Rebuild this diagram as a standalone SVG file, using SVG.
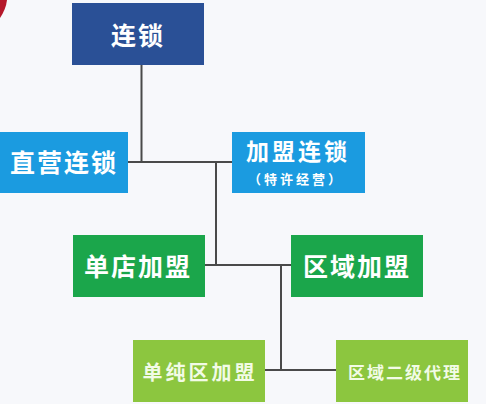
<svg xmlns="http://www.w3.org/2000/svg" width="486" height="404" viewBox="0 0 486 404">
<style>
text{font-family:"Noto Sans CJK SC","Noto Sans",sans-serif;font-weight:bold;fill:#ffffff;text-anchor:middle;dominant-baseline:central}
.c{stroke:#4a4a4a;stroke-width:2;fill:none}
.dk{fill:#2a5096}.lb{fill:#1b9be0}.gr{fill:#1ba64b}.lg{fill:#8cc63f}
.gt{fill:#f2fbe6}
</style>
<rect width="486" height="404" fill="#f7f8fb"/>
<path d="M0,0 L7,0 Q6,9 0,18 Z" fill="#b5182a"/>
<g id="connectors">
<path class="c" d="M141.5,65 V162 M128,162 H232 M216,162 V265 M205,265 H291 M281,265 V370 M265,370 H336"/>
</g>
<g id="n-liansuo"><rect class="dk" x="72" y="3" width="132" height="62"/><text x="138" y="34" font-size="25" letter-spacing="2">连锁</text></g>
<g id="n-zhiying"><rect class="lb" x="0" y="132" width="128" height="61"/><text x="64" y="161" font-size="25" letter-spacing="2">直营连锁</text></g>
<g id="n-jiameng"><rect class="lb" x="232" y="132" width="133" height="61"/><text x="298" y="150" font-size="23" letter-spacing="3">加盟连锁</text><text x="296" y="178" font-size="13" letter-spacing="3">（特许经营）</text></g>
<g id="n-dandian"><rect class="gr" x="73" y="235" width="132" height="62"/><text x="138" y="265" font-size="25" letter-spacing="2">单店加盟</text></g>
<g id="n-quyu"><rect class="gr" x="291" y="235" width="132" height="62"/><text x="357" y="265" font-size="25" letter-spacing="2">区域加盟</text></g>
<g id="n-danchun"><rect class="lg" x="133" y="340" width="132" height="62"/><text class="gt" x="200" y="371" font-size="20" letter-spacing="3">单纯区加盟</text></g>
<g id="n-erji"><rect class="lg" x="336" y="340" width="132" height="62"/><text class="gt" x="405" y="371" font-size="17" letter-spacing="2">区域二级代理</text></g>
</svg>
